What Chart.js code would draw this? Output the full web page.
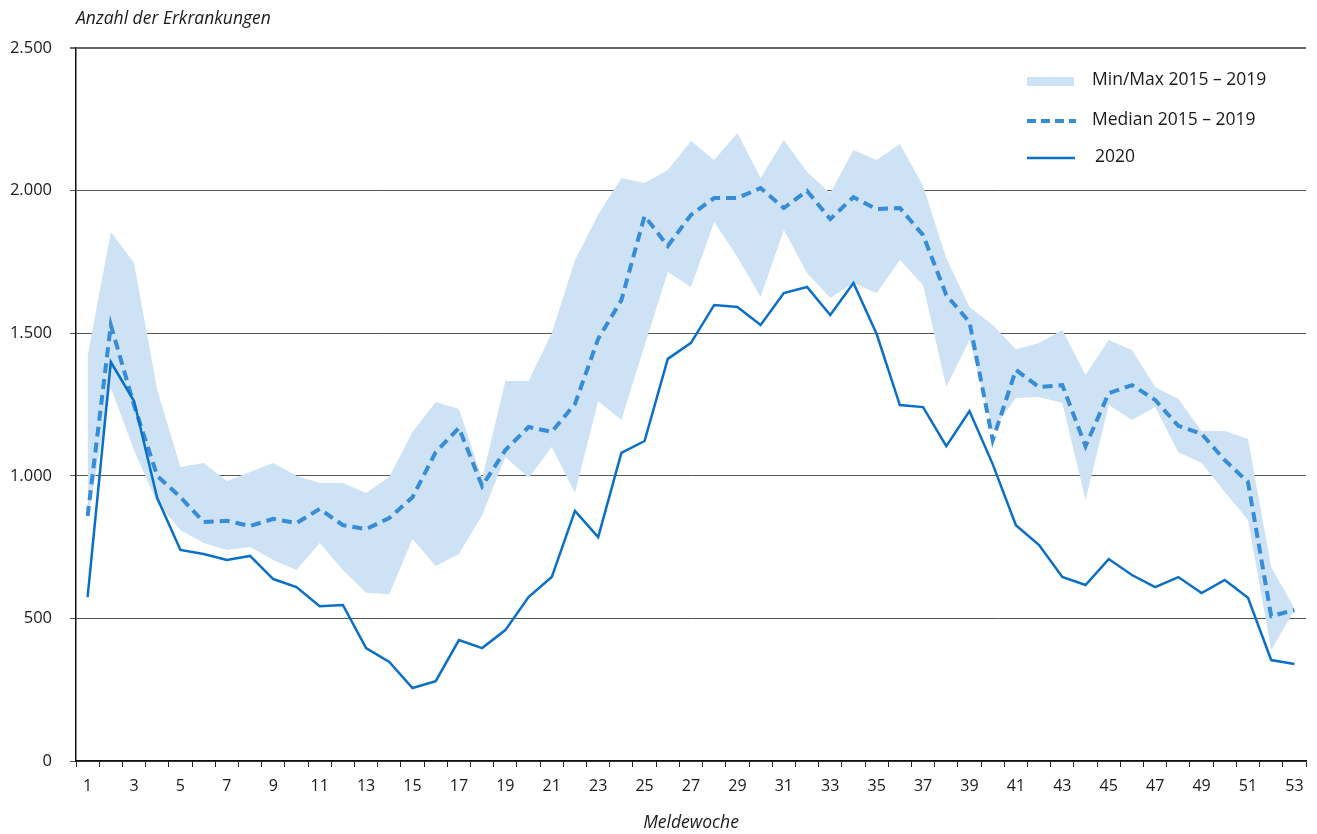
<!DOCTYPE html>
<html lang="de">
<head>
<meta charset="utf-8">
<title>Anzahl der Erkrankungen nach Meldewoche</title>
<script src="https://cdn.jsdelivr.net/npm/chart.js@4.4.1/dist/chart.umd.min.js"></script>
<style>
  html, body { margin: 0; padding: 0; background: #fff; }
  #wrap { width: 1317px; height: 834px; position: relative; }
</style>
</head>
<body>
<div id="wrap"><canvas id="meldewoche-chart"></canvas></div>
<script>
// Meldewochen 1-53
var weeks = [1,2,3,4,5,6,7,8,9,10,11,12,13,14,15,16,17,18,19,20,21,22,23,24,25,26,27,
             28,29,30,31,32,33,34,35,36,37,38,39,40,41,42,43,44,45,46,47,48,49,50,51,52,53];

var cases2020 = [575,1399,1262,922,740,726,705,719,638,610,543,547,396,347,256,280,424,396,459,575,
                 645,877,785,1080,1122,1410,1466,1599,1592,1529,1641,1662,1564,1676,1497,1248,1241,
                 1104,1227,1041,827,757,645,617,708,652,610,645,589,635,572,354,340];

var median1519 = [859,1529,1248,1000,925,838,842,824,849,834,884,827,813,852,925,1083,1168,964,1090,
                  1171,1154,1252,1480,1616,1911,1806,1915,1974,1974,2009,1939,1999,1900,1977,1935,1939,
                  1844,1634,1539,1125,1371,1311,1318,1104,1290,1318,1266,1175,1147,1055,978,508,529];

var max1519 = [1420,1855,1746,1301,1031,1045,982,1013,1045,1000,975,975,940,996,1154,1259,1234,990,
               1332,1332,1500,1757,1915,2044,2027,2072,2174,2107,2202,2044,2177,2065,1992,2142,2107,
               2163,2016,1764,1592,1529,1444,1466,1511,1353,1476,1441,1311,1269,1157,1157,1129,680,536];

var min1519 = [845,1310,1090,905,810,764,740,750,705,670,764,670,590,585,778,684,726,862,1066,992,
               1101,940,1262,1196,1457,1715,1662,1890,1767,1627,1862,1711,1623,1676,1641,1757,1669,
               1311,1476,1160,1273,1276,1255,915,1248,1196,1241,1083,1045,943,845,389,529];

var yTicks = [0, 500, 1000, 1500, 2000, 2500];

var solidBlue = '#0a6fc6';
var dashBlue = '#368cd6';
var bandBlue = '#cde2f4';
var fontName = '"Open Sans", "Noto Sans", sans-serif';

function deNumber(v) {
  return String(v).replace(/\B(?=(\d{3})+(?!\d))/g, '.');
}

// title above the y axis and the legend in the upper right corner
var extraText = {
  id: 'extraText',
  afterDraw: function(chart) {
    var ctx = chart.ctx;
    var area = chart.chartArea;
    ctx.save();
    ctx.fillStyle = '#1a1a1a';
    ctx.textBaseline = 'middle';
    ctx.font = 'italic 17.5px ' + fontName;
    ctx.fillText('Anzahl der Erkrankungen', area.left, 19);

    ctx.font = '17.5px ' + fontName;
    ctx.fillStyle = bandBlue;
    ctx.fillRect(1027, 77, 47, 9);
    ctx.fillStyle = '#1a1a1a';
    ctx.fillText('Min/Max 2015 \u2013 2019', 1092, 80);

    ctx.strokeStyle = dashBlue;
    ctx.lineWidth = 4;
    ctx.setLineDash([9, 5]);
    ctx.beginPath();
    ctx.moveTo(1027, 121);
    ctx.lineTo(1076, 121);
    ctx.stroke();
    ctx.setLineDash([]);
    ctx.fillText('Median 2015 \u2013 2019', 1092, 120);

    ctx.strokeStyle = solidBlue;
    ctx.lineWidth = 2.5;
    ctx.beginPath();
    ctx.moveTo(1027, 158);
    ctx.lineTo(1075, 158);
    ctx.stroke();
    ctx.fillText('2020', 1095, 157);
    ctx.restore();
  }
};

var chart = new Chart('meldewoche-chart', {
  type: 'line',
  data: {
    labels: weeks,
    datasets: [
      {
        label: '2020',
        data: cases2020,
        borderColor: solidBlue,
        borderWidth: 2.5,
        pointRadius: 0,
        tension: 0,
        fill: false
      },
      {
        label: 'Median 2015\u20132019',
        data: median1519,
        borderColor: dashBlue,
        borderWidth: 4,
        borderDash: [10, 6],
        pointRadius: 0,
        tension: 0,
        fill: false
      },
      {
        label: 'Max 2015\u20132019',
        data: max1519,
        borderWidth: 0,
        borderColor: 'rgba(0,0,0,0)',
        backgroundColor: bandBlue,
        pointRadius: 0,
        tension: 0,
        fill: '+1'
      },
      {
        label: 'Min 2015\u20132019',
        data: min1519,
        borderWidth: 0,
        borderColor: 'rgba(0,0,0,0)',
        pointRadius: 0,
        tension: 0,
        fill: false
      }
    ]
  },
  options: {
    responsive: true,
    maintainAspectRatio: false,
    animation: false,
    layout: { padding: { top: 48, right: 11, left: 0, bottom: 0 } },
    plugins: {
      legend: { display: false },
      tooltip: { enabled: false }
    },
    scales: {
      x: {
        offset: true,
        grid: {
          offset: true,
          drawOnChartArea: false,
          drawTicks: true,
          tickLength: 6,
          color: '#222'
        },
        border: { color: '#111', width: 1.5 },
        ticks: {
          autoSkip: false,
          maxRotation: 0,
          padding: 10,
          color: '#1a1a1a',
          font: { family: fontName, size: 16 },
          callback: function(value, index) {
            return index % 2 === 0 ? weeks[index] : '';
          }
        },
        title: {
          display: true,
          text: 'Meldewoche',
          color: '#1a1a1a',
          padding: { top: 0, bottom: 0 },
          font: { family: fontName, size: 17.5, style: 'italic' }
        },
        afterFit: function(scale) { scale.height = 73; }
      },
      y: {
        min: 0,
        max: 2500,
        afterBuildTicks: function(scale) {
          scale.ticks = yTicks.map(function(v) { return { value: v }; });
        },
        grid: {
          tickLength: 6,
          color: function(c) { return c.tick && c.tick.value === 2500 ? '#666' : '#555'; },
          lineWidth: function(c) { return c.tick && c.tick.value === 2500 ? 2 : 1; }
        },
        border: { color: '#111', width: 1.5 },
        ticks: {
          padding: 18,
          color: '#1a1a1a',
          font: { family: fontName, size: 16.5 },
          callback: function(value) { return deNumber(value); }
        },
        afterFit: function(scale) { scale.width = 76; }
      }
    }
  },
  plugins: [extraText]
});
</script>
</body>
</html>
